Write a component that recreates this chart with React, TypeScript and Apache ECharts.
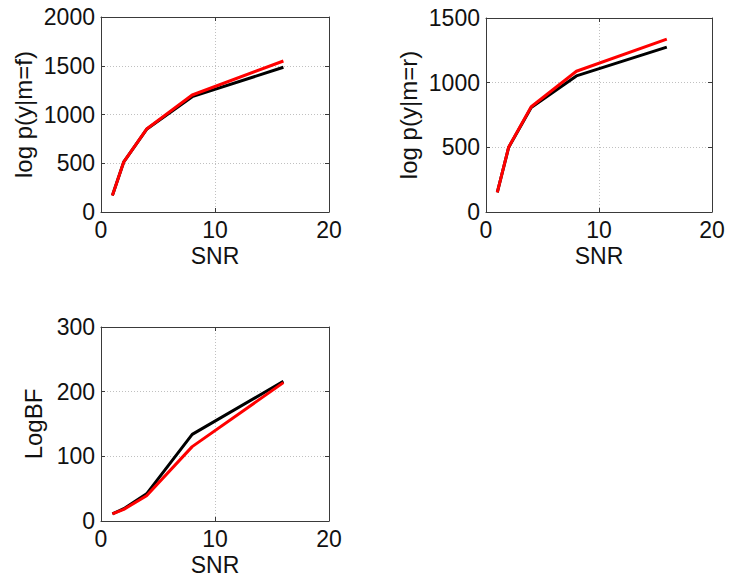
import React, { useEffect, useRef } from "react";
import * as echarts from "echarts";

const snr = [1, 2, 4, 8, 16];
const pfBlack = [170, 515, 848, 1183, 1485];
const pfRed = [170, 515, 851, 1200, 1549];
const prBlack = [152, 498, 808, 1052, 1275];
const prRed = [152, 500, 814, 1088, 1337];
const bfBlack = [11, 19, 42, 134, 216];
const bfRed = [11, 18, 39, 115, 214];

const xTicks = { min: 0, max: 20, interval: 10 };
const yTicks1 = { min: 0, max: 2000, interval: 500 };
const yTicks2 = { min: 0, max: 1500, interval: 500 };
const yTicks3 = { min: 0, max: 300, interval: 100 };

const FONT = "'Liberation Sans', Arial, Helvetica, sans-serif";

export default function App() {
  const ref = useRef<HTMLDivElement>(null);
  useEffect(() => {
    if (!ref.current) return;
    const chart = echarts.init(ref.current, null, { renderer: "svg" });
    const grids = [
      { left: 101, top: 17, width: 228, height: 195 },
      { left: 486, top: 18, width: 226, height: 194 },
      { left: 101, top: 327, width: 228, height: 195 },
    ];
    const yT = [yTicks1, yTicks2, yTicks3];
    const yNames = ["log p(y|m=f)", "log p(y|m=r)", "LogBF"];
    const yGaps = [66, 66, 56];
    const lineCol = "#3a3a3a";
    const fmt = (v: number) => String(v);
    const split = { show: true, lineStyle: { color: "#c0c0c0", type: [1, 2] as any, width: 1 } };
    const xAxis: any[] = [];
    const yAxis: any[] = [];
    grids.forEach((_, i) => {
      xAxis.push({
        type: "value", gridIndex: i, ...xTicks,
        name: "SNR", nameLocation: "middle", nameGap: 32,
        nameTextStyle: { fontFamily: FONT, fontSize: 23, color: "#111" },
        axisLine: { show: true, onZero: false, lineStyle: { color: lineCol } },
        axisTick: { show: true, inside: true, length: 4, lineStyle: { color: lineCol } },
        axisLabel: { fontFamily: FONT, fontSize: 23, color: "#111", margin: 6, formatter: fmt },
        splitLine: split,
      });
      xAxis.push({
        type: "value", gridIndex: i, position: "top", ...xTicks,
        axisLine: { show: true, onZero: false, lineStyle: { color: lineCol } },
        axisTick: { show: true, inside: true, length: 4, lineStyle: { color: lineCol } },
        axisLabel: { show: false }, splitLine: { show: false },
      });
      yAxis.push({
        type: "value", gridIndex: i, ...yT[i],
        name: yNames[i], nameLocation: "middle", nameGap: yGaps[i],
        nameTextStyle: { fontFamily: FONT, fontSize: 24, color: "#111" },
        axisLine: { show: true, onZero: false, lineStyle: { color: lineCol } },
        axisTick: { show: true, inside: true, length: 4, lineStyle: { color: lineCol } },
        axisLabel: { fontFamily: FONT, fontSize: 23, color: "#111", margin: 6, formatter: fmt },
        splitLine: split,
      });
      yAxis.push({
        type: "value", gridIndex: i, position: "right", ...yT[i],
        axisLine: { show: true, onZero: false, lineStyle: { color: lineCol } },
        axisTick: { show: true, inside: true, length: 4, lineStyle: { color: lineCol } },
        axisLabel: { show: false }, splitLine: { show: false },
      });
    });
    const pairs = [
      [pfBlack, pfRed],
      [prBlack, prRed],
      [bfBlack, bfRed],
    ];
    const series: any[] = [];
    pairs.forEach((p, i) => {
      [p[0], p[1]].forEach((vals, j) => {
        series.push({
          type: "line",
          xAxisIndex: i * 2,
          yAxisIndex: i * 2,
          data: snr.map((x, k) => [x, vals[k]]),
          showSymbol: false,
          lineStyle: { color: j === 0 ? "#000000" : "#ff0000", width: 3 },
          itemStyle: { color: j === 0 ? "#000000" : "#ff0000" },
          z: 3 + j,
        });
      });
    });
    chart.setOption({
      animation: false,
      backgroundColor: "#ffffff",
      grid: grids,
      xAxis,
      yAxis,
      series,
    });
    return () => chart.dispose();
  }, []);
  return (
    <div
      ref={ref}
      style={{ position: "absolute", left: 0, top: 0, width: 729, height: 577 }}
    />
  );
}
